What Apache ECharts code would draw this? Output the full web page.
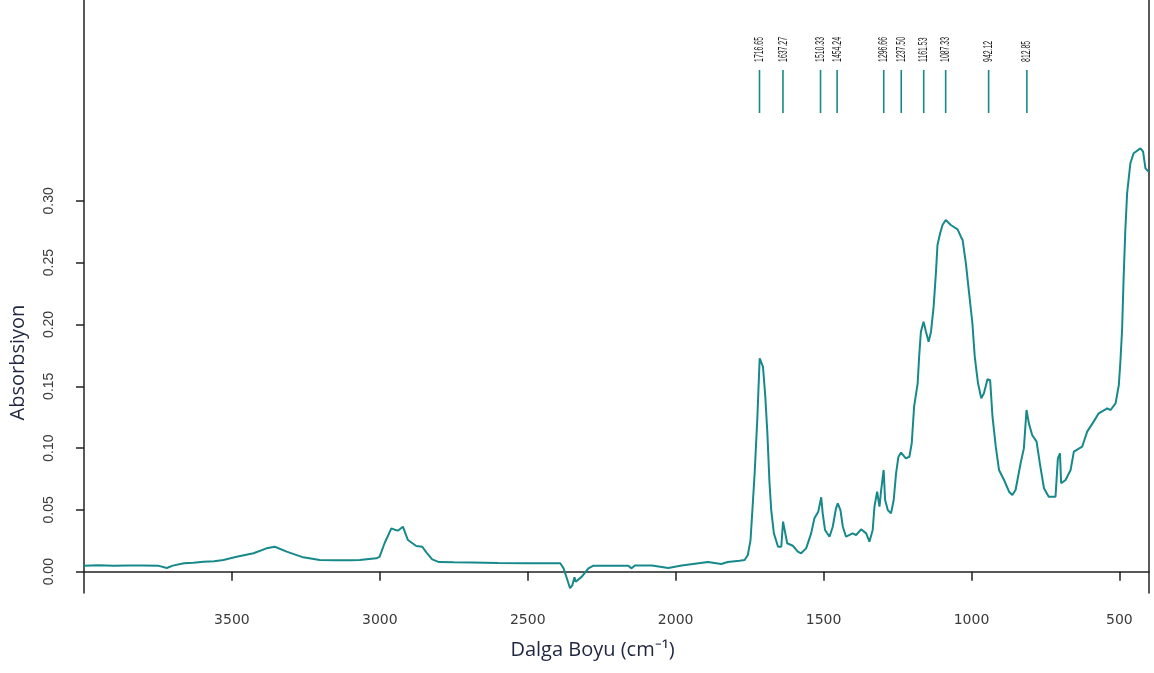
<!DOCTYPE html>
<html>
<head>
<meta charset="utf-8">
<script src="https://cdn.jsdelivr.net/npm/echarts@6/dist/echarts.min.js"></script>
<style>
  html, body { margin: 0; padding: 0; background: #fff; }
  #chart { width: 1154px; height: 673px; }
</style>
</head>
<body>
<div id="chart"></div>
<script>
// dalga sayisi (cm-1), soldan saga azalan
var waveNumbers = [4000, 3950, 3900, 3850, 3800, 3750, 3720, 3700, 3662, 3630, 3596, 3560, 3529, 3484, 3427, 3383, 3355, 3315, 3259, 3203,
    3150, 3100, 3068, 3012, 3001, 2984, 2961, 2950, 2939, 2922, 2905, 2877, 2857, 2840, 2823, 2800, 2750, 2688, 2600, 2500,
    2390, 2379, 2366, 2357, 2349, 2342, 2338, 2317, 2295, 2278, 2200, 2160, 2149, 2138, 2080, 2025, 1980, 1935, 1891, 1846,
    1824, 1784, 1767, 1756, 1750, 1747, 1742, 1733, 1724, 1716, 1705, 1697, 1690, 1683, 1677, 1668, 1654, 1643, 1637, 1635,
    1623, 1604, 1587, 1576, 1559, 1542, 1531, 1518, 1508, 1503, 1495, 1480, 1469, 1458, 1452, 1443, 1435, 1424, 1402, 1390,
    1373, 1356, 1345, 1334, 1328, 1319, 1311, 1306, 1297, 1292, 1283, 1272, 1263, 1255, 1247, 1238, 1222, 1210, 1202, 1194,
    1182, 1177, 1171, 1162, 1154, 1145, 1137, 1128, 1120, 1115, 1106, 1098, 1087, 1070, 1047, 1036, 1030, 1019, 1008, 997,
    989, 978, 967, 958, 946, 937, 929, 918, 907, 890, 873, 862, 851, 834, 823, 814, 806, 795, 780, 769,
    755, 739, 716, 708, 701, 697, 682, 665, 654, 626, 609, 587, 570, 541, 530, 513, 502, 497, 491, 486,
    480, 474, 463, 452, 429, 420, 412, 401]
var absorbance = [0.0049, 0.0052, 0.0048, 0.0051, 0.0050, 0.0049, 0.0030, 0.0049, 0.0068, 0.0072, 0.0081, 0.0085, 0.0095, 0.0121, 0.0149, 0.0189, 0.0202, 0.0162, 0.0116, 0.0095,
    0.0093, 0.0093, 0.0095, 0.0108, 0.0120, 0.0230, 0.0351, 0.0340, 0.0332, 0.0364, 0.0256, 0.0208, 0.0202, 0.0149, 0.0100, 0.0078, 0.0076, 0.0075, 0.0070, 0.0068,
    0.0068, 0.0027, -0.0067, -0.0134, -0.0108, -0.0045, -0.0081, -0.0040, 0.0027, 0.0049, 0.0049, 0.0049, 0.0027, 0.0050, 0.0050, 0.0030, 0.0050, 0.0065, 0.0078, 0.0063,
    0.0078, 0.0089, 0.0095, 0.0135, 0.0149, 0.0256, 0.0445, 0.0796, 0.1240, 0.1726, 0.1660, 0.1416, 0.1120, 0.0728, 0.0499, 0.0310, 0.0202, 0.0202, 0.0405, 0.0418,
    0.0230, 0.0210, 0.0162, 0.0149, 0.0189, 0.0310, 0.0432, 0.0486, 0.0602, 0.0472, 0.0337, 0.0283, 0.0364, 0.0513, 0.0553, 0.0499, 0.0364, 0.0283, 0.0310, 0.0297,
    0.0343, 0.0310, 0.0243, 0.0337, 0.0526, 0.0647, 0.0526, 0.0647, 0.0823, 0.0580, 0.0499, 0.0472, 0.0580, 0.0796, 0.0930, 0.0963, 0.0917, 0.0930, 0.1039, 0.1335,
    0.1524, 0.1740, 0.1942, 0.2023, 0.1942, 0.1860, 0.1940, 0.2144, 0.2427, 0.2643, 0.2738, 0.2805, 0.2845, 0.2805, 0.2770, 0.2710, 0.2683, 0.2495, 0.2252, 0.2010,
    0.1740, 0.1524, 0.1403, 0.1443, 0.1557, 0.1550, 0.1254, 0.1011, 0.0823, 0.0742, 0.0647, 0.0620, 0.0661, 0.0877, 0.0998, 0.1308, 0.1200, 0.1106, 0.1052, 0.0877,
    0.0675, 0.0607, 0.0607, 0.0917, 0.0958, 0.0715, 0.0742, 0.0823, 0.0971, 0.1011, 0.1133, 0.1214, 0.1281, 0.1322, 0.1308, 0.1362, 0.1510, 0.1686, 0.1955, 0.2360,
    0.2764, 0.3060, 0.3304, 0.3385, 0.3425, 0.3398, 0.3263, 0.3236]

// tepe noktalari (ust isaretler)
var peakPositions = [1716.65, 1637.27, 1510.33, 1454.24, 1296.66, 1237.50, 1161.53, 1087.33, 942.12, 812.85]
var peakLabels = ['1716.65', '1637.27', '1510.33', '1454.24', '1296.66', '1237.50', '1161.53', '1087.33', '942.12', '812.85']

var xTickValues = [3500, 3000, 2500, 2000, 1500, 1000, 500]
var yTickValues = [0, 0.05, 0.10, 0.15, 0.20, 0.25, 0.30]

var lineColor = '#17898a'
var markBottom = 0.3711
var markTop = 0.4059
var labelBase = 0.4124

var chart = echarts.init(document.getElementById('chart'))

var spectrum = waveNumbers.map(function(w, i) {
    return [w, absorbance[i]]
})

var options = {
    animation: false,
    grid: {
        left: 84,
        right: 5,
        top: 0,
        bottom: 80,
        outerBoundsMode: 'none',
        containLabel: false
    },
    xAxis: {
        type: 'value',
        min: 400,
        max: 4000,
        inverse: true,
        name: 'Dalga Boyu (cm⁻¹)',
        nameLocation: 'middle',
        nameGap: 47,
        nameTextStyle: {
            fontFamily: 'Open Sans',
            fontSize: 20,
            color: '#1f2640',
            padding: [0, 48, 0, 0]
        },
        splitLine: { show: false },
        axisLine: {
            lineStyle: { color: '#222', width: 1.5 }
        },
        axisTick: {
            customValues: xTickValues,
            length: 9,
            lineStyle: { color: '#222', width: 1.5 }
        },
        axisLabel: {
            customValues: xTickValues,
            margin: 20,
            fontFamily: 'DejaVu Sans',
            fontSize: 14,
            color: '#3a3a3a',
            formatter: function(v) {
                return String(v)
            }
        }
    },
    yAxis: [{
        type: 'value',
        min: -0.01723,
        max: 0.4625,
        name: 'Absorbsiyon',
        nameLocation: 'middle',
        nameGap: 56,
        nameTextStyle: {
            fontFamily: 'Open Sans',
            fontSize: 20,
            color: '#1f2640',
            padding: [0, 132, 0, 0]
        },
        splitLine: { show: false },
        axisLine: {
            show: true,
            lineStyle: { color: '#222', width: 1.5 }
        },
        axisTick: {
            customValues: yTickValues,
            length: 8,
            lineStyle: { color: '#222', width: 1.5 }
        },
        axisLabel: {
            customValues: yTickValues,
            rotate: 90,
            margin: 28,
            fontFamily: 'Liberation Sans',
            fontSize: 14,
            color: '#3a3a3a',
            formatter: function(v) {
                return v.toFixed(2)
            }
        }
    }, {
        type: 'value',
        position: 'right',
        min: -0.01723,
        max: 0.4625,
        splitLine: { show: false },
        axisLine: {
            show: true,
            lineStyle: { color: '#222', width: 1.5 }
        },
        axisTick: { show: false },
        axisLabel: { show: false }
    }],
    series: [{
        name: 'spektrum',
        type: 'line',
        data: spectrum,
        symbol: 'none',
        lineStyle: {
            color: lineColor,
            width: 2
        }
    }, {
        name: 'tepeler',
        type: 'custom',
        data: peakPositions.map(function(p) { return [p, markTop] }),
        encode: { x: 0, y: 1 },
        renderItem: function(params, api) {
            var x = api.value(0)
            var top = api.coord([x, markTop])
            var bot = api.coord([x, markBottom])
            var lab = api.coord([x, labelBase])
            return {
                type: 'group',
                children: [{
                    type: 'line',
                    shape: { x1: top[0], y1: top[1], x2: bot[0], y2: bot[1] },
                    style: { stroke: lineColor, lineWidth: 1.6 }
                }, {
                    type: 'text',
                    x: lab[0],
                    y: lab[1],
                    rotation: Math.PI / 2,
                    scaleX: 0.53,
                    style: {
                        text: peakLabels[params.dataIndex],
                        fontFamily: 'Liberation Sans',
                        fontSize: 13,
                        fill: '#1a1a1a',
                        align: 'left',
                        verticalAlign: 'middle'
                    }
                }]
            }
        }
    }]
}

chart.setOption(options, true)
window.addEventListener('resize', function() {
    chart.resize()
})
</script>
</body>
</html>
